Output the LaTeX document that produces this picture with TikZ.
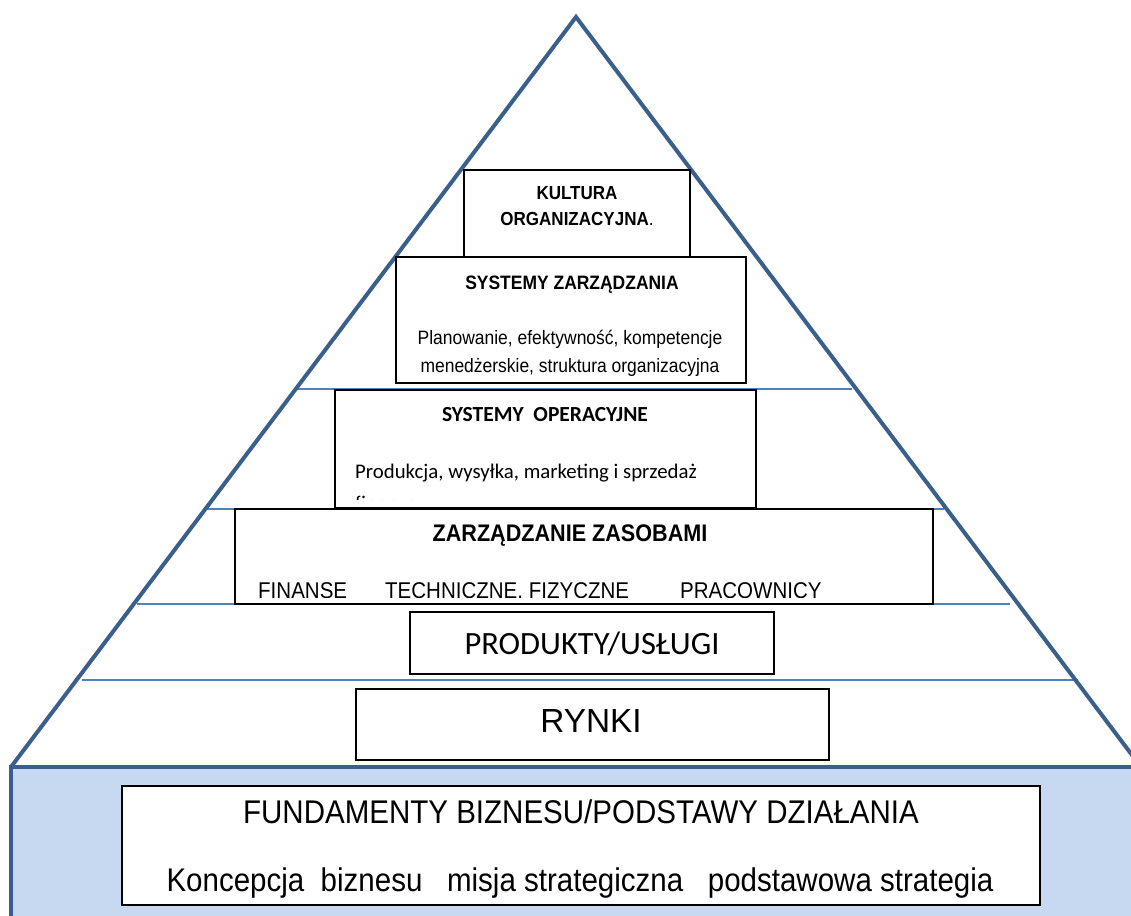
\documentclass[tikz,border=0pt]{standalone}
\usepackage{fontspec}
\setmainfont{Liberation Sans}
\newfontfamily\narrow[FakeStretch=0.9]{Liberation Sans}
\newfontfamily\carlito{Carlito}
\definecolor{edgeblue}{HTML}{3A5F8B}
\definecolor{tierline}{HTML}{4F81BD}
\definecolor{basefill}{HTML}{C6D9F1}
\newcommand{\fsz}[1]{\fontsize{#1}{#1}\selectfont}
\begin{document}
\begin{tikzpicture}[x=1pt,y=-1pt,
  tier/.style={draw=tierline,line width=1.6pt},
  pyramid/.style={draw=edgeblue,line width=4pt,line join=miter},
  box/.style={draw=black,line width=1.8pt,fill=white,inner sep=0pt,outer sep=0pt,anchor=north west},
  txt/.style={inner sep=0pt,anchor=base},
  ltxt/.style={inner sep=0pt,anchor=base west},
]
\useasboundingbox (0,0) rectangle (1131,915);

\begin{scope}
  \clip (0,0) rectangle (1131,915);
  % foundation slab
  \draw[draw=edgeblue,line width=4pt,fill=basefill] (11,767) rectangle (1170,950);
  % level dividers
  \draw[tier] (297,389) -- (852,389);
  \draw[tier] (206,509) -- (944,509);
  \draw[tier] (137,604) -- (1010,604);
  \draw[tier] (82,680) -- (1078,680);
  % pyramid outline
  \draw[pyramid] (11,767) -- (576,17) -- (1141,767);
\end{scope}

% level boxes
\node[box,minimum width=226pt,minimum height=87pt] (kultura) at (464,170) {};
\node[box,minimum width=350pt,minimum height=126pt] (zarzadzanie) at (396,257) {};
\node[box,minimum width=421pt,minimum height=118pt] (operacyjne) at (335,390) {};
\node[box,minimum width=698pt,minimum height=95pt] (zasoby) at (235,509) {};
\node[box,minimum width=364pt,minimum height=62pt] (produkty) at (410,612) {};
\node[box,minimum width=473pt,minimum height=71pt] (rynki) at (356,689) {};
\node[box,minimum width=918pt,minimum height=119pt] (fundamenty) at (122,786) {};

% culture
\node[txt,font=\narrow\bfseries\fsz{18.9}] (kulturaA) at (577,199.8) {KULTURA};
\node[txt,font=\narrow\fsz{18.9}] (kulturaB) at (577,225.8) {\textbf{ORGANIZACYJNA}.};

% management systems
\node[txt,font=\narrow\bfseries\fsz{19.4}] (zarzT) at (572,289) {SYSTEMY ZARZĄDZANIA};
\begin{scope}
  \clip (396,257) rectangle (746,375);
  \node[txt,font=\narrow\fsz{19.4}] (zarzA) at (570,344.5) {Planowanie, efektywność, kompetencje};
  \node[txt,font=\narrow\fsz{19.4}] (zarzB) at (570,372) {menedżerskie, struktura organizacyjna};
\end{scope}

% operating systems
\node[txt,font=\carlito\bfseries\fsz{21.5}] (operT) at (545,421) {SYSTEMY\ \ OPERACYJNE};
\begin{scope}
  \clip (335,390) rectangle (756,499);
  \node[ltxt,font=\carlito\fsz{20.8}] (operA) at (355,478) {Produkcja, wysyłka, marketing i sprzedaż};
  \node[ltxt,font=\carlito\fsz{20.8}] (operB) at (355,510) {finanse};
\end{scope}

% resources
\node[txt,font=\narrow\bfseries\fsz{24}] (zasT) at (570,541.6) {ZARZĄDZANIE ZASOBAMI};
\begin{scope}
  \clip (235,509) rectangle (933,597);
  \node[ltxt,font=\narrow\fsz{22.8}] (zasA) at (258,598.5) {FINANSE};
  \node[ltxt,font=\narrow\fsz{22.8}] (zasB) at (385,598.5) {TECHNICZNE. FIZYCZNE};
  \node[ltxt,font=\narrow\fsz{22.8}] (zasC) at (680,598.5) {PRACOWNICY};
\end{scope}

% products, markets
\node[txt,font=\carlito\fsz{32.5}] (prodT) at (592,654) {PRODUKTY/USŁUGI};
\node[txt,font=\fsz{33.4}] (rynkiT) at (591,732) {RYNKI};

% foundations
\node[txt,font=\narrow\fsz{32.8}] (fundT) at (581,823.7) {FUNDAMENTY BIZNESU/PODSTAWY DZIAŁANIA};
\node[txt,font=\narrow\fsz{32.8}] (fundA) at (580,891) {Koncepcja\ \ biznesu\ \ \ misja strategiczna\ \ \ podstawowa strategia};
\end{tikzpicture}
\end{document}
